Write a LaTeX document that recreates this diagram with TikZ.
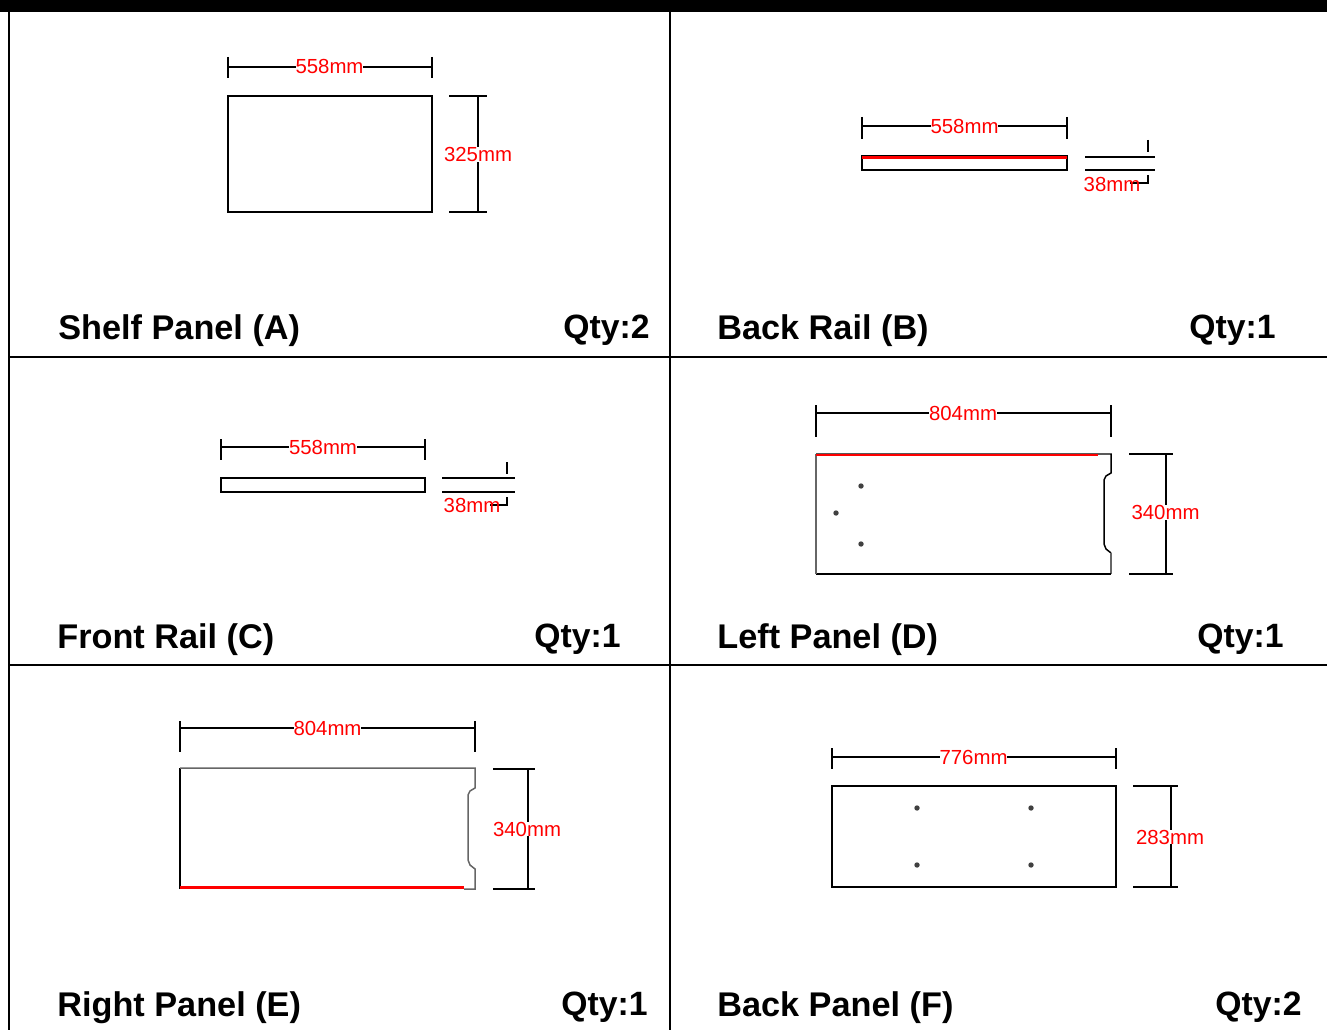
\documentclass[tikz,border=0pt]{standalone}
\usepackage{fontspec}
\setmainfont{Liberation Sans}
\tikzset{
	gridline/.style={black, line width=0.9pt},
	part/.style={black, line width=0.85pt},
	partlight/.style={black!60, line width=0.85pt},
	dimline/.style={black, line width=0.8pt},
	cutedge/.style={red, line width=1.3pt},
	hole/.style={black!75},
	dimlabel/.style={red, fill=white, inner sep=0pt, font=\fontsize{11.6}{13}\selectfont},
	partname/.style={anchor=west, inner sep=0pt, font=\fontsize{19.5}{22}\selectfont\bfseries},
	partqty/.style={anchor=east, inner sep=0pt, font=\fontsize{19.2}{22}\selectfont\bfseries}
}
\begin{document}
\begin{tikzpicture}[x=0.02cm, y=-0.02cm]
			\useasboundingbox (0,0) rectangle (1327,1030);
			\fill[black] (0,0) rectangle (1327,12);
			\draw[gridline] (9,12) -- (9,1030);
			\draw[gridline] (670,12) -- (670,1030);
			\draw[gridline] (9,357) -- (1327,357);
			\draw[gridline] (9,665) -- (1327,665);

			\draw[part] (228,96) rectangle (432,212);
			\draw[dimline] (228,57) -- (228,78);
			\draw[dimline] (432,57) -- (432,78);
			\draw[dimline] (228,67) -- (432,67);
			\draw[dimline] (449,96) -- (487,96);
			\draw[dimline] (449,212) -- (487,212);
			\draw[dimline] (478,96) -- (478,212);
			\node[dimlabel] (shelfwidth) at (329.5,66) {558mm};
			\node[dimlabel] (shelfdepth) at (478,154.5) {325mm};
			\node[partname] (shelfname) at (58,330.5) {Shelf Panel (A)};
			\node[partqty] (shelfqty) at (650,330.5) {Qty:2};

			\draw[part] (862,156) rectangle (1067,170);
			\draw[cutedge] (862,157.5) -- (1067,157.5);
			\draw[dimline] (862,117) -- (862,139);
			\draw[dimline] (1067,117) -- (1067,139);
			\draw[dimline] (862,126) -- (1067,126);
			\draw[dimline] (1085,157) -- (1155,157);
			\draw[dimline] (1085,170) -- (1155,170);
			\draw[dimline] (1148,140) -- (1148,152);
			\draw[dimline] (1148,175) -- (1148,183) -- (1130,183);
			\node[dimlabel] (backrailwidth) at (964.5,126.5) {558mm};
			\node[dimlabel, fill=none] (backrailheight) at (1112,184) {38mm};
			\node[partname] (backrailname) at (717,330.5) {Back Rail (B)};
			\node[partqty] (backrailqty) at (1276,330.5) {Qty:1};

			\draw[part] (221,478) rectangle (425,492);
			\draw[dimline] (221,439) -- (221,460);
			\draw[dimline] (425,439) -- (425,460);
			\draw[dimline] (221,447) -- (425,447);
			\draw[dimline] (442,478) -- (515,478);
			\draw[dimline] (442,492) -- (515,492);
			\draw[dimline] (507,462) -- (507,474);
			\draw[dimline] (507,497) -- (507,505) -- (490,505);
			\node[dimlabel] (frontrailwidth) at (323,447) {558mm};
			\node[dimlabel, fill=none] (frontrailheight) at (472,505) {38mm};
			\node[partname] (frontrailname) at (57,639.5) {Front Rail (C)};
			\node[partqty] (frontrailqty) at (621,639.5) {Qty:1};

			\draw[part] (816,454) -- (1111,454) -- (1111,473) -- (1106,476) -- (1104,480) -- (1104,544) -- (1106,549) -- (1111,553);
			\draw[partlight] (1111,553) -- (1111,574);
			\draw[part] (1111,574) -- (816,574);
			\draw[partlight] (816,574) -- (816,454);
			\draw[cutedge] (816,455) -- (1098,455);
			\fill[hole] (861,486) circle (2.7);
			\fill[hole] (836,513) circle (2.7);
			\fill[hole] (861,544) circle (2.7);
			\draw[dimline] (816,405) -- (816,437);
			\draw[dimline] (1111,405) -- (1111,437);
			\draw[dimline] (816,413) -- (1111,413);
			\draw[dimline] (1129,454) -- (1173,454);
			\draw[dimline] (1129,574) -- (1173,574);
			\draw[dimline] (1166,454) -- (1166,574);
			\node[dimlabel] (leftwidth) at (963,413.5) {804mm};
			\node[dimlabel] (leftdepth) at (1165.5,512.5) {340mm};
			\node[partname] (leftname) at (717,639.5) {Left Panel (D)};
			\node[partqty] (leftqty) at (1284,639.5) {Qty:1};

			\draw[part] (180,889) -- (180,768);
			\draw[partlight] (180,768) -- (475,768) -- (475,788) -- (470,791) -- (468,795) -- (468,860) -- (470,865) -- (475,869) -- (475,889) -- (464,889);
			\draw[cutedge] (180,887.5) -- (464,887.5);
			\draw[dimline] (180,721) -- (180,752);
			\draw[dimline] (475,721) -- (475,752);
			\draw[dimline] (180,728) -- (475,728);
			\draw[dimline] (493,769) -- (535,769);
			\draw[dimline] (493,889) -- (535,889);
			\draw[dimline] (528,769) -- (528,889);
			\node[dimlabel] (rightwidth) at (327.5,728) {804mm};
			\node[dimlabel] (rightdepth) at (527,829) {340mm};
			\node[partname] (rightname) at (57,1007.5) {Right Panel (E)};
			\node[partqty] (rightqty) at (648,1007.5) {Qty:1};

			\draw[part] (832,786) rectangle (1116,887);
			\fill[hole] (917,808) circle (2.7);
			\fill[hole] (1031,808) circle (2.7);
			\fill[hole] (917,865) circle (2.7);
			\fill[hole] (1031,865) circle (2.7);
			\draw[dimline] (832,748) -- (832,769);
			\draw[dimline] (1116,748) -- (1116,769);
			\draw[dimline] (832,757) -- (1116,757);
			\draw[dimline] (1133,786) -- (1178,786);
			\draw[dimline] (1133,887) -- (1178,887);
			\draw[dimline] (1171,786) -- (1171,887);
			\node[dimlabel] (backwidth) at (973.5,757) {776mm};
			\node[dimlabel] (backdepth) at (1170,837) {283mm};
			\node[partname] (backname) at (717,1007.5) {Back Panel (F)};
			\node[partqty] (backqty) at (1302,1007.5) {Qty:2};
			\end{tikzpicture}
\end{document}
